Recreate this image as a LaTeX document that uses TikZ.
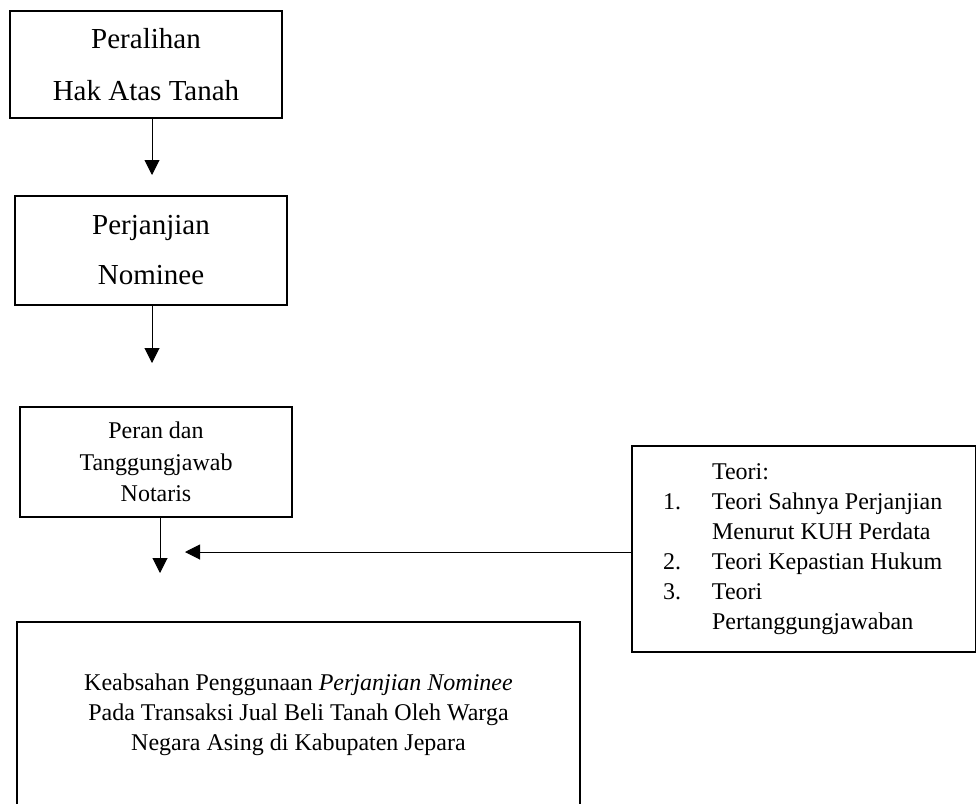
\documentclass[tikz,border=0pt]{standalone}
\usepackage{fontspec}
\setmainfont{Liberation Serif}
\usetikzlibrary{arrows.meta}

\newcommand{\baristeori}[2]{\makebox[282pt][l]{\makebox[49pt][l]{#1}#2}}

\begin{document}
\begin{tikzpicture}[x=1pt,y=-1pt,
        kotak/.style={draw,line width=1.8pt,inner sep=0pt},
        panah/.style={line width=1pt,-{Triangle[length=15pt,width=15pt]}}]

        \useasboundingbox (0,0) rectangle (976,803);

        % kotak-kotak alur
        \node[kotak,align=center,minimum width=272,minimum height=107,
              font=\fontsize{29}{52}\selectfont] (peralihan) at (146,64.5)
              {Peralihan\\Hak Atas Tanah};
        \node[kotak,align=center,minimum width=272,minimum height=109,
              font=\fontsize{29}{50}\selectfont] (nominee) at (151,250.5)
              {Perjanjian\\Nominee};
        \node[kotak,align=center,minimum width=272,minimum height=110,
              font=\fontsize{24}{31.5}\selectfont] (notaris) at (156,462)
              {Peran dan\\Tanggungjawab\\Notaris};
        \node[kotak,align=left,inner xsep=31,minimum height=206,
              font=\fontsize{24}{30}\selectfont] (teori) at (804,549)
              {\baristeori{}{Teori:}\\
               \baristeori{1.}{Teori Sahnya Perjanjian}\\
               \baristeori{}{Menurut KUH Perdata}\\
               \baristeori{2.}{Teori Kepastian Hukum}\\
               \baristeori{3.}{Teori}\\
               \baristeori{}{Pertanggungjawaban}};
        \node[kotak,minimum width=563,minimum height=184,
              font=\fontsize{24}{30}\selectfont] (keabsahan) at (298.5,714)
              {\begin{tabular}{@{}c@{}}
               Keabsahan Penggunaan \textit{Perjanjian Nominee}\\
               Pada Transaksi Jual Beli Tanah Oleh Warga\\
               Negara Asing di Kabupaten Jepara
               \end{tabular}\hspace{72pt}};

        % panah
        \coordinate (ujung1) at (152,175);
        \coordinate (ujung2) at (152,363);
        \coordinate (ujung3) at (160,573);
        \coordinate (ujung4) at (185,552);
        \draw[panah] (peralihan.south -| ujung1) -- (ujung1);
        \draw[panah] (nominee.south -| ujung2) -- (ujung2);
        \draw[panah] (notaris.south -| ujung3) -- (ujung3);
        \draw[panah] (ujung4 -| teori.west) -- (ujung4);
\end{tikzpicture}
\end{document}
